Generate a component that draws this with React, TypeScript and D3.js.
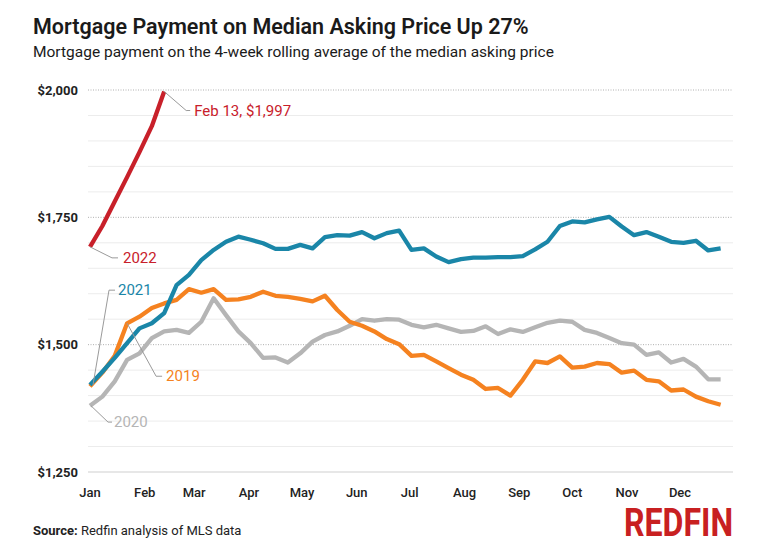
import React from "react";
import * as d3 from "d3";

// ---- Data (weekly, starting first week of January) ----
const monthLabels = ["Jan", "Feb", "Mar", "Apr", "May", "Jun", "Jul", "Aug", "Sep", "Oct", "Nov", "Dec"];
const monthStartDays = [0, 31, 59, 90, 120, 151, 181, 212, 243, 273, 304, 334];
const yTicks = [1250, 1500, 1750, 2000];
const yMinor = [1300, 1350, 1400, 1450, 1550, 1600, 1650, 1700, 1800, 1850, 1900, 1950];

const values2019 = [1418, 1445, 1478, 1542, 1555, 1572, 1581, 1588, 1609, 1602, 1609, 1588, 1589, 1594,
  1604, 1596, 1594, 1590, 1585, 1596, 1568, 1545, 1537, 1526, 1511, 1501, 1478,
  1480, 1467, 1454, 1441, 1431, 1413, 1415, 1400, 1431, 1467, 1464, 1477, 1455,
  1457, 1464, 1462, 1445, 1449, 1431, 1428, 1410, 1412, 1398, 1389, 1382];
const values2020 = [1380, 1398, 1428, 1470, 1483, 1513, 1526, 1529, 1523, 1545, 1591, 1558, 1526, 1503,
  1474, 1475, 1465, 1483, 1506, 1519, 1526, 1537, 1550, 1547, 1550, 1549, 1539,
  1534, 1539, 1532, 1525, 1527, 1536, 1521, 1530, 1525, 1534, 1543, 1547, 1545,
  1529, 1523, 1513, 1503, 1500, 1480, 1485, 1465, 1472, 1457, 1432, 1432];
const values2021 = [1421, 1447, 1474, 1503, 1532, 1542, 1562, 1617, 1637, 1666, 1686, 1702, 1712, 1706,
  1699, 1688, 1688, 1696, 1689, 1711, 1715, 1714, 1721, 1709, 1719, 1724, 1686,
  1689, 1673, 1662, 1668, 1671, 1671, 1672, 1672, 1674, 1687, 1702, 1733, 1742,
  1740, 1746, 1751, 1732, 1715, 1721, 1712, 1702, 1700, 1704, 1685, 1689];
const values2022 = [1692, 1733, 1781, 1829, 1878, 1929, 1997];

const seriesNames = ["2020", "2019", "2021", "2022"];
const seriesColors: Record<string, string> = {
  "2019": "#f58220",
  "2020": "#b5b5b5",
  "2021": "#1a86a8",
  "2022": "#c8202a",
};
const seriesValues: Record<string, number[]> = {
  "2019": values2019,
  "2020": values2020,
  "2021": values2021,
  "2022": values2022,
};

const FONT = "Roboto, 'Noto Sans', sans-serif";

export default function App() {
  const W = 765, H = 559;
  const x = d3.scaleLinear().domain([0, 334]).range([90, 680]);
  const y = d3.scaleLinear().domain([1250, 2000]).range([472, 90]);
  const gridX0 = 88, gridX1 = 733;

  const line = d3.line<number>()
    .x((_, i) => x(i * 7))
    .y((d) => y(d))
    .curve(d3.curveLinear);

  const p = (name: string, i: number) => [x(i * 7), y(seriesValues[name][i])];
  const s22 = p("2022", 0), e22 = p("2022", values2022.length - 1);
  const s21 = p("2021", 0), s20 = p("2020", 0), k19 = p("2019", 3);

  const leader = "#9a9a9a";
  const y21 = y(1607), y19 = y(1438), y20 = y(1348);

  return (
    <svg width={W} height={H} style={{ position: "absolute", left: 0, top: 0, background: "#fff" }} fontFamily={FONT}>
      <rect width={W} height={H} fill="#fff" />
      <text x={33} y={34} fontSize={21.5} fontWeight={600} fill="#1a1a1a">Mortgage Payment on Median Asking Price Up 27%</text>
      <text x={33} y={57} fontSize={15.5} fill="#1a1a1a">Mortgage payment on the 4-week rolling average of the median asking price</text>

      {/* grid */}
      {yMinor.map((v) => (
        <line key={"m" + v} x1={gridX0} x2={gridX1} y1={y(v)} y2={y(v)} stroke="#ececec" strokeWidth={1} />
      ))}
      {yTicks.filter((v) => v !== 1250).map((v) => (
        <line key={"M" + v} x1={gridX0} x2={gridX1} y1={y(v)} y2={y(v)} stroke="#b0b0b0" strokeWidth={1} strokeDasharray="1,1.5" />
      ))}
      <line x1={gridX0} x2={gridX1} y1={y(1250)} y2={y(1250)} stroke="#cfcfcf" strokeWidth={1} />

      {yTicks.map((v) => (
        <text key={"yt" + v} x={78} y={y(v)} dy="0.35em" textAnchor="end" fontSize={13} fontWeight={700} fill="#222">
          {d3.format("$,")(v)}
        </text>
      ))}
      {monthLabels.map((m, i) => (
        <text key={m} x={x(monthStartDays[i])} y={497} textAnchor="middle" fontSize={13} fontWeight={500} fill="#222">{m}</text>
      ))}

      {/* series */}
      {seriesNames.map((n) => (
        <path key={n} d={line(seriesValues[n]) || ""} fill="none" stroke={seriesColors[n]} strokeWidth={4.3} strokeLinejoin="round" strokeLinecap="butt" />
      ))}

      {/* annotations */}
      <polyline points={`${e22[0]},${e22[1]} ${e22[0] + 22},${e22[1] + 19} ${e22[0] + 26},${e22[1] + 19}`} fill="none" stroke={leader} strokeWidth={1} />
      <text x={e22[0] + 30} y={e22[1] + 19} dy="0.35em" fontSize={15} fill={seriesColors["2022"]}>Feb 13, $1,997</text>

      <polyline points={`${s22[0]},${s22[1]} ${s22[0] + 22},${s22[1] + 11} ${s22[0] + 28},${s22[1] + 11}`} fill="none" stroke={leader} strokeWidth={1} />
      <text x={s22[0] + 33} y={s22[1] + 11} dy="0.35em" fontSize={15} fill={seriesColors["2022"]}>2022</text>

      <polyline points={`${s21[0] + 3},${s21[1]} ${s21[0] + 19},${y21} ${s21[0] + 25},${y21}`} fill="none" stroke={leader} strokeWidth={1} />
      <text x={s21[0] + 28} y={y21} dy="0.35em" fontSize={15} fill={seriesColors["2021"]}>2021</text>

      <polyline points={`${k19[0]},${k19[1]} ${k19[0] + 29},${y19} ${k19[0] + 35},${y19}`} fill="none" stroke={leader} strokeWidth={1} />
      <text x={k19[0] + 39} y={y19} dy="0.35em" fontSize={15} fill={seriesColors["2019"]}>2019</text>

      <polyline points={`${s20[0] + 1},${s20[1]} ${s20[0] + 18},${y20} ${s20[0] + 22},${y20}`} fill="none" stroke={leader} strokeWidth={1} />
      <text x={s20[0] + 24} y={y20} dy="0.35em" fontSize={15} fill={seriesColors["2020"]}>2020</text>

      {/* footer */}
      <text x={33} y={535} fontSize={13} fill="#222">
        <tspan fontWeight={700}>Source:</tspan>
        <tspan> Redfin analysis of MLS data</tspan>
      </text>
      <text x={624} y={536} fontSize={38} fontWeight={700} fill="#c82021" textLength={109} lengthAdjust="spacingAndGlyphs">REDFIN</text>
    </svg>
  );
}
